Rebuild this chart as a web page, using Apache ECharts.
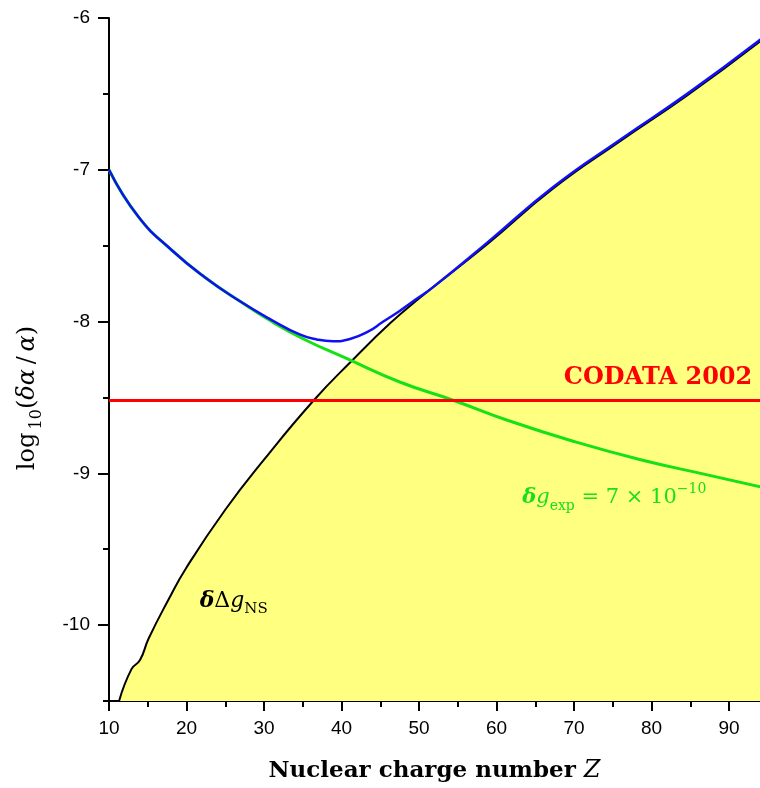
<!DOCTYPE html>
<html>
<head>
<meta charset="utf-8">
<title>log10(δα/α) vs Z</title>
<script src="https://cdn.jsdelivr.net/npm/echarts@6/dist/echarts.min.js"></script>
<style>
html, body { margin: 0; padding: 0; background: #fff; }
#main { width: 760px; height: 788px; }
</style>
</head>
<body>
<div id="main"></div>
<script>
// values
var nsZ   = [11.3, 12.9, 14.0, 15.1, 17.7, 20.0, 25.0, 30.0, 36.4, 41.3, 46.3, 50.2, 58.8, 67.4, 76.0, 84.6, 94.1];
var nsLog = [-10.5, -10.29, -10.23, -10.09, -9.83, -9.62, -9.24, -8.91, -8.52, -8.26, -8.01, -7.84, -7.49, -7.12, -6.81, -6.51, -6.15];

var expZ   = [10, 13.8, 18.1, 22.4, 26.7, 31.0, 35.3, 40.5, 47.6, 54.5, 61.4, 70.0, 78.6, 87.2, 94.1];
var expLog = [-7.0, -7.31, -7.53, -7.71, -7.86, -8.00, -8.12, -8.24, -8.40, -8.52, -8.65, -8.79, -8.91, -9.01, -9.09];

var totZ   = [10, 13.8, 18.1, 22.4, 26.7, 31.0, 34.6, 36.8, 38.9, 41.1, 43.3, 45.4, 47.5, 49.7, 51.9, 58.8, 67.4, 76.0, 84.6, 94.1];
var totLog = [-7.0, -7.31, -7.53, -7.71, -7.86, -7.99, -8.085, -8.118, -8.13, -8.115, -8.07, -8.0, -7.93, -7.85, -7.77, -7.48, -7.11, -6.80, -6.50, -6.14];

var codataZ   = [10, 94];
var codataLog = [-8.52, -8.52];

var xMajor = [10, 20, 30, 40, 50, 60, 70, 80, 90];
var xMinor = [15, 25, 35, 45, 55, 65, 75, 85];
var yMajor = [-10, -9, -8, -7, -6];
var yMinor = [-10.5, -9.5, -8.5, -7.5, -6.5];

function pairs(xs, ys) {
  return xs.map(function (x, i) { return [x, ys[i]]; });
}

var serif = '"DejaVu Serif", "Liberation Serif", serif';
var tickFont = { fontFamily: '"Liberation Sans", Arial, sans-serif', fontSize: 19, color: '#000' };

var chart = echarts.init(document.getElementById('main'));

var option = {
  animation: false,
  grid: { left: 109, right: 0, top: 18, bottom: 84 },
  xAxis: [{
    type: 'value', min: 10, max: 94, interval: 10,
    axisLine: { onZero: false, lineStyle: { color: '#000', width: 2 } },
    axisTick: { customValues: xMajor, length: 10, lineStyle: { color: '#000', width: 2 } },
    axisLabel: Object.assign({ customValues: xMajor, margin: 18 }, tickFont),
    splitLine: { show: false },
    name: '{b|Nuclear charge number }{z|Z}',
    nameLocation: 'middle', nameGap: 58,
    nameTextStyle: {
      rich: {
        b: { fontFamily: serif, fontWeight: 'bold', fontSize: 23, color: '#000' },
        z: { fontFamily: serif, fontStyle: 'italic', fontSize: 24, color: '#000' }
      }
    }
  }, {
    type: 'value', min: 10, max: 94, position: 'bottom',
    axisLine: { show: false },
    axisTick: { customValues: xMinor, length: 6, lineStyle: { color: '#000', width: 2 } },
    axisLabel: { show: false },
    splitLine: { show: false }
  }],
  yAxis: [{
    type: 'value', min: -10.5, max: -6, interval: 0.5,
    axisLine: { show: true, onZero: false, lineStyle: { color: '#000', width: 2 } },
    axisTick: { customValues: yMajor, length: 11, lineStyle: { color: '#000', width: 2 } },
    axisLabel: Object.assign({ customValues: yMajor, margin: 19 }, tickFont),
    splitLine: { show: false }
  }, {
    type: 'value', min: -10.5, max: -6, position: 'left',
    axisLine: { show: false },
    axisTick: { customValues: yMinor, length: 6, lineStyle: { color: '#000', width: 2 } },
    axisLabel: { show: false },
    splitLine: { show: false }
  }],
  series: [{
    name: 'NS', type: 'line', data: pairs(nsZ, nsLog),
    showSymbol: false, smooth: 0.5, z: 2,
    lineStyle: { color: '#000', width: 2 },
    areaStyle: { color: '#ffff80', opacity: 1, origin: 'start' }
  }, {
    name: 'exp', type: 'line', data: pairs(expZ, expLog),
    showSymbol: false, smooth: 0.5, z: 3,
    lineStyle: { color: '#16e016', width: 3 }
  }, {
    name: 'total', type: 'line', data: pairs(totZ, totLog),
    showSymbol: false, smooth: 0.5, z: 4,
    lineStyle: { color: '#1010f2', width: 2.5 }
  }, {
    name: 'CODATA 2002', type: 'line', data: pairs(codataZ, codataLog),
    showSymbol: false, z: 5,
    lineStyle: { color: '#ff0000', width: 3 }
  }]
};
chart.setOption(option);

// text labels anchored at data coordinates
var codataAt = chart.convertToPixel({ gridIndex: 0 }, [93, -8.37]);
var expAt = chart.convertToPixel({ gridIndex: 0 }, [75.2, -9.16]);
var nsAt = chart.convertToPixel({ gridIndex: 0 }, [21.7, -9.84]);

function mathRich(color, size) {
  var sub = Math.round(size * 0.66);
  return {
    d: { fill: color, fontFamily: serif, fontStyle: 'italic', fontWeight: 'bold', fontSize: size, lineHeight: size + 10 },
    i: { fill: color, fontFamily: serif, fontStyle: 'italic', fontSize: size, lineHeight: size + 10 },
    r: { fill: color, fontFamily: serif, fontSize: size, lineHeight: size + 10 },
    s: { fill: color, fontFamily: serif, fontSize: sub, lineHeight: sub, verticalAlign: 'bottom' },
    p: { fill: color, fontFamily: serif, fontSize: sub, lineHeight: sub, verticalAlign: 'top' }
  };
}

chart.setOption({
  graphic: [{
    type: 'text', x: codataAt[0], y: codataAt[1], z: 10,
    style: {
      text: 'CODATA 2002', fill: '#ff0000',
      font: 'bold 24px ' + serif,
      align: 'right', verticalAlign: 'middle'
    }
  }, {
    type: 'text', x: expAt[0], y: expAt[1], z: 10,
    style: {
      text: '{d|δ}{i|g}{s|exp}{r| = 7 × 10}{p|−10}',
      fill: '#16e016', rich: mathRich('#16e016', 21),
      align: 'center', verticalAlign: 'middle'
    }
  }, {
    type: 'text', x: nsAt[0], y: nsAt[1], z: 10,
    style: {
      text: '{d|δ}{r|Δ}{i|g}{s|NS}',
      fill: '#000', rich: mathRich('#000', 22),
      align: 'left', verticalAlign: 'middle'
    }
  }, {
    type: 'text', x: 28, y: 398, rotation: Math.PI / 2, z: 10,
    style: {
      text: '{r|log}{s|\u200910}{r|(}{i|δα}{r|\u2009/\u2009}{i|α}{r|)}',
      fill: '#000', rich: mathRich('#000', 24),
      align: 'center', verticalAlign: 'middle'
    }
  }]
});
</script>
</body>
</html>
